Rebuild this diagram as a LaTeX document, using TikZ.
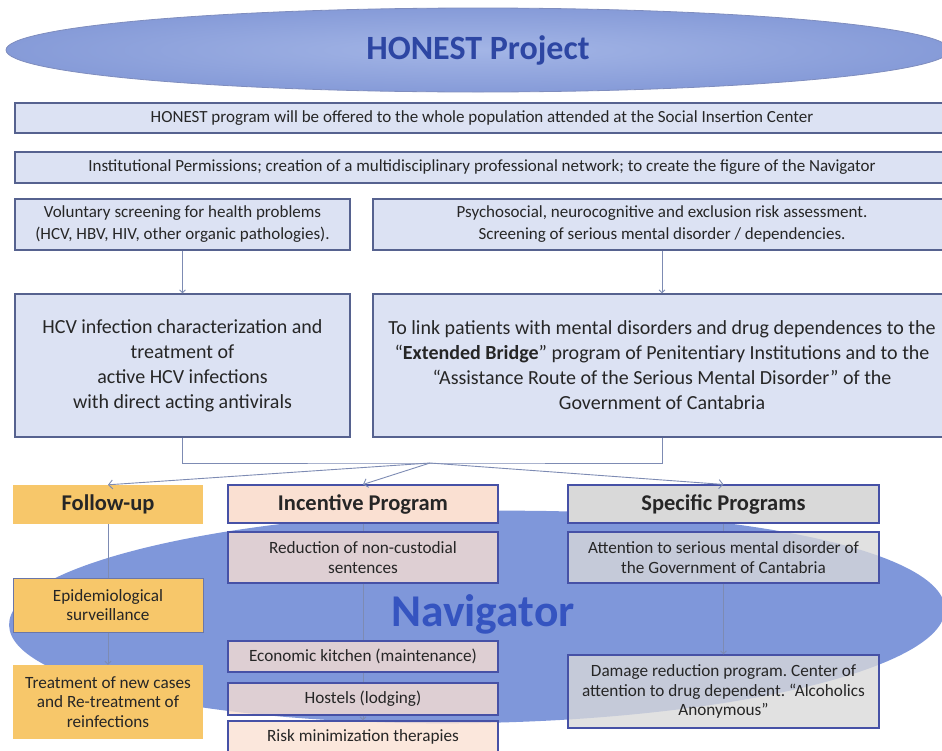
\documentclass[tikz,border=0pt]{standalone}
\usepackage{fontspec}
\setmainfont{Carlito}
\usetikzlibrary{arrows.meta,shapes.geometric}
\definecolor{topfill}{HTML}{DCE2F3}
\definecolor{topline}{HTML}{56628F}
\definecolor{ovalA}{HTML}{A3B5E6}
\definecolor{ovalC}{HTML}{869BD8}
\definecolor{ovalline}{HTML}{7F8DBE}
\definecolor{ovalB}{HTML}{7F97DA}
\definecolor{titleblue}{HTML}{2D46A3}
\definecolor{navblue}{HTML}{3554C0}
\definecolor{linkc}{HTML}{7D8BB3}
\definecolor{gold}{HTML}{F7C76A}
\definecolor{peach}{HTML}{FAE0D2}
\definecolor{greyb}{HTML}{D9D9D9}
\definecolor{boxline}{HTML}{4651A6}
\definecolor{epiline}{HTML}{6A76A8}
\definecolor{ink}{HTML}{262626}
\newcommand{\hfont}[2]{\fontsize{#1}{#2}\selectfont}
\newcommand{\hcell}[7]{%
  \node[#2, minimum width={(#5-#3)*1pt}, minimum height={(#6-#4)*1pt}]
    (#1) at ({(#3+#5)/2},{(#4+#6)/2}) {#7};}
\tikzset{
  topbox/.style={draw=topline, line width=1.1pt, fill=topfill, inner sep=0pt,
    align=center, text=ink, font=\hfont{17}{22}},
  bigbox/.style={topbox, font=\hfont{20}{25}},
  head/.style={inner sep=0pt, align=center, text=ink, font=\hfont{22.5}{26}\bfseries},
  subbox/.style={inner sep=0pt, align=center, text=ink, font=\hfont{17.2}{19.5}},
  seethru/.style={fill opacity=.78, text opacity=1, draw=boxline, line width=1.1pt},
  link/.style={draw=linkc, line width=0.9pt},
  arr/.style={link, -{Straight Barb[length=4pt,width=9pt]}},
  tip/.style={link, -{Straight Barb[length=3pt,width=6pt]}},
}
\begin{document}
\frenchspacing
\begin{tikzpicture}[x=1pt,y=-1pt]
  \useasboundingbox (0,0) rectangle (942,750);
  \node[ellipse, draw=ovalline, line width=0.8pt, inner color=ovalA, outer color=ovalC,
    inner sep=0pt, minimum width=944pt, minimum height=84pt, text=titleblue,
    font=\hfont{34}{40}\bfseries] (honest) at (478,50) {HONEST Project};
  \hcell{offer}{topbox}{15}{103}{949}{133}{HONEST program will be offered to the whole population attended at the Social Insertion Center}
  \hcell{perm}{topbox}{15}{152}{949}{183}{Institutional Permissions; creation of a multidisciplinary professional network; to create the figure of the Navigator}
  \hcell{screen}{topbox}{15}{199}{350}{250}{Voluntary screening for health problems\\(HCV, HBV, HIV, other organic pathologies).}
  \hcell{psych}{topbox}{373}{199}{951}{250}{Psychosocial, neurocognitive and exclusion risk assessment.\\Screening of serious mental disorder / dependencies.}
  \hcell{hcv}{bigbox}{15}{294}{350}{437}{HCV infection characterization and\\treatment of\\active HCV infections\\with direct acting antivirals}
  \hcell{bridge}{bigbox}{373}{294}{951}{437}{To link patients with mental disorders and drug dependences to the\\“\textbf{Extended Bridge}” program of Penitentiary Institutions and to the\\“Assistance Route of the Serious Mental Disorder” of the\\Government of Cantabria}
  \draw[tip] (screen) -- (hcv);
  \draw[tip] (psych) -- (bridge);
  \coordinate (join) at (430,463);
  \draw[link] (hcv.south) |- (join) -| (bridge.south);
  \node[ellipse, fill=ovalB, inner sep=0pt, minimum width=936pt,
    minimum height=212pt, rotate=1] (navoval) at (477,617) {};
  \node[text=navblue, font=\hfont{45.5}{50}\bfseries] (navtitle) at (483,614) {Navigator};
  \hcell{follow}{head, fill=gold}{13}{485}{203}{524}{Follow-up}
  \hcell{incent}{head, fill=peach, draw=boxline, line width=1.1pt}{228}{485}{498}{523}{Incentive Program}
  \hcell{spec}{head, fill=greyb, draw=boxline, line width=1.1pt}{568}{485}{879}{523}{Specific Programs}
  \draw[arr] (join) -- (follow.north);
  \draw[arr] (join) -- (incent.north);
  \draw[arr] (join) -- (spec.north);
  \hcell{epi}{subbox, fill=gold, draw=epiline, line width=1pt}{13}{578}{203}{632}{Epidemiological\\surveillance}
  \hcell{treat}{subbox, fill=gold}{13}{665}{203}{739}{Treatment of new cases\\and Re-treatment of\\reinfections}
  \hcell{reduc}{subbox, fill=peach, seethru}{228}{532}{498}{583}{Reduction of non-custodial\\sentences}
  \hcell{kitchen}{subbox, fill=peach, seethru}{228}{641}{498}{672}{Economic kitchen (maintenance)}
  \hcell{hostel}{subbox, fill=peach, seethru}{228}{683}{498}{715}{Hostels (lodging)}
  \hcell{risk}{subbox, fill=peach, seethru}{228}{721}{498}{753}{Risk minimization therapies}
  \hcell{attend}{subbox, fill=greyb, seethru}{568}{532}{879}{583}{Attention to serious mental disorder of\\the Government of Cantabria}
  \hcell{damage}{subbox, fill=greyb, seethru}{568}{655}{879}{728}{Damage reduction program. Center of\\attention to drug dependent. “Alcoholics\\Anonymous”}
  \draw[link] (follow) -- (epi);
  \draw[tip] (epi) -- (treat);
  \draw[link] (incent) -- (reduc);
  \draw[link] (reduc) -- (kitchen);
  \draw[link] (kitchen) -- (hostel);
  \draw[tip] (hostel) -- (risk);
  \draw[link] (spec) -- (attend);
  \draw[tip] (attend) -- (damage);
\end{tikzpicture}
\end{document}
